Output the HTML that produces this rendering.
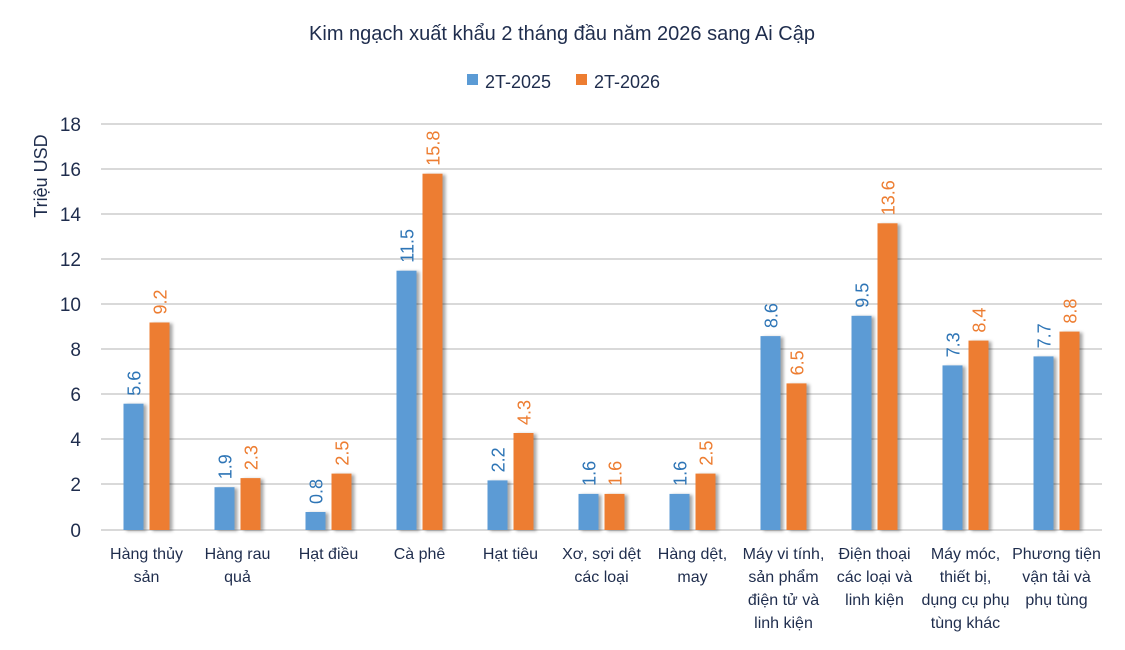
<!DOCTYPE html>
<html><head><meta charset="utf-8"><style>body{margin:0;background:#fff}</style></head>
<body>
<svg width="1125" height="645" xmlns="http://www.w3.org/2000/svg" font-family="Liberation Sans, sans-serif">
<defs><filter id="sh" x="-20%" y="-5%" width="160%" height="110%"><feDropShadow dx="3" dy="1" stdDeviation="1.5" flood-color="#000" flood-opacity="0.35"/></filter></defs>
<text x="562" y="40" text-anchor="middle" font-size="20" fill="#1f2d4d">Kim ngạch xuất khẩu 2 tháng đầu năm 2026 sang Ai Cập</text>
<rect x="467" y="74" width="11" height="11" fill="#5b9bd5"/>
<text x="485" y="88" font-size="18" fill="#1f2d4d">2T-2025</text>
<rect x="576" y="74" width="11" height="11" fill="#ed7d31"/>
<text x="594" y="88" font-size="18" fill="#1f2d4d">2T-2026</text>
<text transform="translate(47,176) rotate(-90)" text-anchor="middle" font-size="18" fill="#1f2d4d">Triệu USD</text>
<g stroke="#d9d9d9" stroke-width="2">
<line x1="101" x2="1102" y1="124" y2="124"/><line x1="101" x2="1102" y1="169" y2="169"/><line x1="101" x2="1102" y1="214" y2="214"/><line x1="101" x2="1102" y1="259" y2="259"/><line x1="101" x2="1102" y1="304" y2="304"/><line x1="101" x2="1102" y1="349" y2="349"/><line x1="101" x2="1102" y1="394" y2="394"/><line x1="101" x2="1102" y1="439" y2="439"/><line x1="101" x2="1102" y1="484" y2="484"/><line x1="101" x2="1102" y1="530" y2="530"/>
</g>
<g font-size="19" fill="#1f2d4d" text-anchor="end">
<text x="81" y="131">18</text><text x="81" y="176">16</text><text x="81" y="221">14</text><text x="81" y="266">12</text><text x="81" y="311">10</text><text x="81" y="356">8</text><text x="81" y="401">6</text><text x="81" y="446">4</text><text x="81" y="491">2</text><text x="81" y="537">0</text>
</g>
<g filter="url(#sh)" fill="#5b9bd5">
<rect x="123.5" y="403.7" width="20" height="126.3"/>
<rect x="214.5" y="487.2" width="20" height="42.8"/>
<rect x="305.5" y="512" width="20" height="18"/>
<rect x="396.5" y="270.7" width="20" height="259.3"/>
<rect x="487.5" y="480.4" width="20" height="49.6"/>
<rect x="578.5" y="493.9" width="20" height="36.1"/>
<rect x="669.5" y="493.9" width="20" height="36.1"/>
<rect x="760.5" y="336.1" width="20" height="193.9"/>
<rect x="851.5" y="315.8" width="20" height="214.2"/>
<rect x="942.5" y="365.4" width="20" height="164.6"/>
<rect x="1033.5" y="356.4" width="20" height="173.6"/>
</g>
<g filter="url(#sh)" fill="#ed7d31">
<rect x="149.5" y="322.5" width="20" height="207.5"/>
<rect x="240.5" y="478.1" width="20" height="51.9"/>
<rect x="331.5" y="473.6" width="20" height="56.4"/>
<rect x="422.5" y="173.7" width="20" height="356.3"/>
<rect x="513.5" y="433" width="20" height="97"/>
<rect x="604.5" y="493.9" width="20" height="36.1"/>
<rect x="695.5" y="473.6" width="20" height="56.4"/>
<rect x="786.5" y="383.4" width="20" height="146.6"/>
<rect x="877.5" y="223.3" width="20" height="306.7"/>
<rect x="968.5" y="340.6" width="20" height="189.4"/>
<rect x="1059.5" y="331.6" width="20" height="198.4"/>
</g>
<g font-size="18" fill="#2e75b6">
<text transform="translate(140.5,395.7) rotate(-90)">5.6</text>
<text transform="translate(231.5,479.2) rotate(-90)">1.9</text>
<text transform="translate(322.5,504) rotate(-90)">0.8</text>
<text transform="translate(413.5,262.7) rotate(-90)">11.5</text>
<text transform="translate(504.5,472.4) rotate(-90)">2.2</text>
<text transform="translate(595.5,485.9) rotate(-90)">1.6</text>
<text transform="translate(686.5,485.9) rotate(-90)">1.6</text>
<text transform="translate(777.5,328.1) rotate(-90)">8.6</text>
<text transform="translate(868.5,307.8) rotate(-90)">9.5</text>
<text transform="translate(959.5,357.4) rotate(-90)">7.3</text>
<text transform="translate(1050.5,348.4) rotate(-90)">7.7</text>
</g>
<g font-size="18" fill="#ed7d31">
<text transform="translate(166.5,314.5) rotate(-90)">9.2</text>
<text transform="translate(257.5,470.1) rotate(-90)">2.3</text>
<text transform="translate(348.5,465.6) rotate(-90)">2.5</text>
<text transform="translate(439.5,165.7) rotate(-90)">15.8</text>
<text transform="translate(530.5,425) rotate(-90)">4.3</text>
<text transform="translate(621.5,485.9) rotate(-90)">1.6</text>
<text transform="translate(712.5,465.6) rotate(-90)">2.5</text>
<text transform="translate(803.5,375.4) rotate(-90)">6.5</text>
<text transform="translate(894.5,215.3) rotate(-90)">13.6</text>
<text transform="translate(985.5,332.6) rotate(-90)">8.4</text>
<text transform="translate(1076.5,323.6) rotate(-90)">8.8</text>
</g>
<g font-size="16" fill="#1f2d4d" text-anchor="middle">
<text x="146.5" y="559">Hàng thủy</text><text x="146.5" y="582">sản</text>
<text x="237.5" y="559">Hàng rau</text><text x="237.5" y="582">quả</text>
<text x="328.5" y="559">Hạt điều</text>
<text x="419.5" y="559">Cà phê</text>
<text x="510.5" y="559">Hạt tiêu</text>
<text x="601.5" y="559">Xơ, sợi dệt</text><text x="601.5" y="582">các loại</text>
<text x="692.5" y="559">Hàng dệt,</text><text x="692.5" y="582">may</text>
<text x="783.5" y="559">Máy vi tính,</text><text x="783.5" y="582">sản phẩm</text><text x="783.5" y="605">điện tử và</text><text x="783.5" y="628">linh kiện</text>
<text x="874.5" y="559">Điện thoại</text><text x="874.5" y="582">các loại và</text><text x="874.5" y="605">linh kiện</text>
<text x="965.5" y="559">Máy móc,</text><text x="965.5" y="582">thiết bị,</text><text x="965.5" y="605">dụng cụ phụ</text><text x="965.5" y="628">tùng khác</text>
<text x="1056.5" y="559">Phương tiện</text><text x="1056.5" y="582">vận tải và</text><text x="1056.5" y="605">phụ tùng</text>
</g>
</svg>
</body></html>
